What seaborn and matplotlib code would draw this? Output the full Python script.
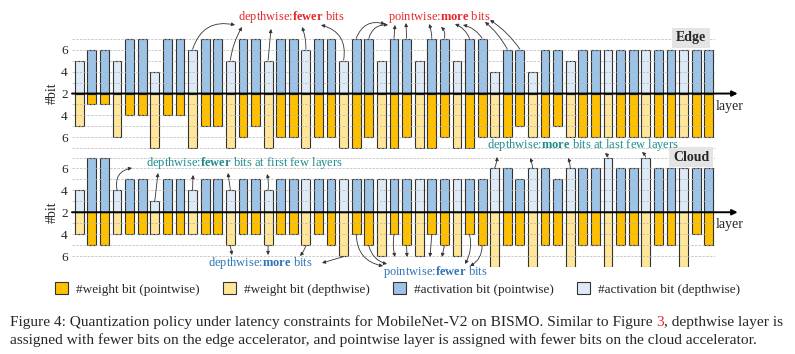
import numpy as np
import pandas as pd
import seaborn as sns
import matplotlib.pyplot as plt
from matplotlib.patches import Patch

sns.set_style('white')
plt.rcParams['font.family'] = ['Liberation Serif', 'DejaVu Serif']
plt.rcParams['mathtext.fontset'] = 'custom'
plt.rcParams['mathtext.rm'] = 'Liberation Serif'
plt.rcParams['mathtext.bf'] = 'Liberation Serif:bold'

# bits per layer (51 layers: depthwise, pointwise, pointwise, ...)
layers = list(range(51))
edge_act = [5,6,6, 5,7,7, 4,7,7, 6,7,7, 5,7,7, 5,7,7, 6,7,7, 5,7,7, 5,7,7, 5,7,7,
            5,7,7, 4,6,6, 4,6,6, 5,6,6, 6,6,6, 6,6,6, 6,6,6]
edge_w = [5,3,3, 6,4,4, 7,4,4, 7,5,5, 7,6,5, 7,6,6, 7,6,6, 7,7,6, 7,7,6, 7,7,6,
          7,7,6, 6,6,5, 6,6,5, 6,6,6, 6,6,6, 6,6,6, 6,6,6]
cloud_act = [4,7,7, 4,5,5, 3,5,5, 4,5,5, 4,5,5, 4,5,5, 5,5,5, 5,5,5, 5,5,5, 5,5,5,
             5,5,5, 6,6,5, 6,6,5, 6,6,6, 7,6,6, 7,6,6, 6,6,6]
cloud_w = [4,5,5, 4,4,4, 4,4,4, 4,4,4, 5,4,4, 5,4,4, 5,4,5, 6,4,5, 6,4,5, 6,4,5,
           6,4,5, 7,5,5, 7,5,5, 7,5,5, 7,5,5, 7,5,5, 7,4,5]
kinds = ['depthwise' if i % 3 == 0 else 'pointwise' for i in layers]

legend_labels = ['#weight bit (pointwise)', '#weight bit (depthwise)',
                 '#activation bit (pointwise)', '#activation bit (depthwise)']
colors = ['#ffc000', '#ffe699', '#9dc3e6', '#deebf7']
palette = dict(zip(legend_labels, colors))

RED, TEAL, BLUE = '#e8262a', '#1f8c8c', '#2e74b5'


def fx(px):
    return px / 795


def fy(py):
    return 1 - py / 354


def make_df(act, w):
    rows = []
    for i in layers:
        rows.append((i, act[i] - 2, '#activation bit (%s)' % kinds[i]))
        rows.append((i, -(w[i] - 2), '#weight bit (%s)' % kinds[i]))
    return pd.DataFrame(rows, columns=['layer', 'h', 'part'])


fig = plt.figure(figsize=(7.95, 3.54), dpi=100)
ax_e = fig.add_axes([fx(72), fy(148.5), fx(715) - fx(72), (148.5 - 37.5) / 354])
ax_c = fig.add_axes([fx(72), fy(267.2), fx(715) - fx(72), (148.5 - 37.5) / 354])

for ax, act, w, name, ny in [(ax_e, edge_act, edge_w, 'Edge', 38),
                             (ax_c, cloud_act, cloud_w, 'Cloud', 157)]:
    df = make_df(act, w)
    sns.barplot(data=df, x='layer', y='h', hue='part', hue_order=legend_labels,
                palette=palette, saturation=1, dodge=False, width=0.7,
                errorbar=None, edgecolor='#333333', linewidth=0.8, legend=False,
                ax=ax)
    ax.set_xlim(-0.58, 50.5)
    ax.set_ylim(-5.02, 5.12)
    for lv in range(-5, 6):
        if lv != 0:
            ax.axhline(lv, color='#b5b5b5', lw=0.6, ls=(0, (3, 1.5)), alpha=0.8)
    ax.annotate('', xy=(52.3, 0), xytext=(-0.58, 0),
                arrowprops=dict(arrowstyle='-|>', color='black', lw=1.4,
                                mutation_scale=8, shrinkA=0, shrinkB=0),
                annotation_clip=False)
    ax.text(50.55, -1.15, 'layer', fontsize=10, ha='left', va='center')
    ax.set_xticks([])
    ax.set_yticks([4, 2, 0, -2, -4])
    ax.set_yticklabels(['6', '4', '2', '4', '6'], fontsize=9.5)
    ax.tick_params(axis='y', length=0, pad=3)
    ax.set_xlabel('')
    ax.set_ylabel('#bit', fontsize=10, labelpad=2)
    sns.despine(ax=ax, left=True, bottom=True)
    fig.text(fx(691), fy(ny), name, fontsize=10, fontweight='bold',
             ha='center', va='center', zorder=5,
             bbox=dict(boxstyle='square,pad=0.25', fc='#e4e4e4', ec='none'))

# annotation groups: text, colour, centre (px), axes, series, layers, arrow heads (px), rads
groups = [
    ('depthwise:$\\mathbf{fewer}$ bits', RED, (291, 17), ax_e, edge_act, 1,
     [9, 12, 15, 18, 21],
     [(235, 25), (242, 27), (271, 29), (302, 27), (321, 25)],
     [-0.45, -0.1, 0, 0.1, 0.45]),
    ('pointwise:$\\mathbf{more}$ bits', RED, (439, 17), ax_e, edge_act, 1,
     [22, 23, 25, 26, 28, 29, 31, 32, 34, 35],
     [(385, 24), (388, 25), (395, 25), (406, 23), (429, 24), (441, 27),
      (455, 24), (463, 25), (485, 22), (490, 20)],
     [-0.45, -0.4, 0, 0, 0.1, 0.3, 0.2, 0.2, 0.1, 0.1]),
    ('depthwise:$\\mathbf{fewer}$ bits at first few layers', TEAL, (244, 163), ax_c,
     cloud_act, 1, [3, 6, 9, 12, 15],
     [(132, 168), (158, 173), (193, 175), (228, 173), (267, 174)],
     [-0.5, 0, 0, 0, 0.1]),
    ('depthwise:$\\mathbf{more}$ bits at last few layers', TEAL, (583, 145), ax_c,
     cloud_act, 1, [33, 36, 39, 42, 45],
     [(497, 157), (530, 158), (568, 158), (605, 153), (642, 152)],
     [0.1, 0.1, 0.1, 0.1, 0.1]),
    ('depthwise:$\\mathbf{more}$ bits', BLUE, (260, 263), ax_c, cloud_w, -1,
     [12, 15, 18, 21],
     [(232, 255), (268, 255), (300, 256), (322, 263)],
     [0, 0, -0.1, 0]),
    ('pointwise:$\\mathbf{fewer}$ bits', BLUE, (435, 272), ax_c, cloud_w, -1,
     [22, 23, 25, 26, 28, 29, 31, 32],
     [(383, 266), (387, 264), (395, 257), (407, 257), (430, 257), (442, 257),
      (465, 264), (470, 266)],
     [0.4, 0.3, 0.1, 0, 0, 0, -0.2, -0.3]),
]

for text, col, (cx, cy), ax, series, sign, idx, heads, rads in groups:
    fig.text(fx(cx), fy(cy), text, color=col, fontsize=9, ha='center',
             va='center', zorder=6)
    for i, (hx, hy), rad in zip(idx, heads, rads):
        y0 = sign * (series[i] - 2) + sign * 0.05
        ax.annotate('', xy=(fx(hx), fy(hy)), xycoords='figure fraction',
                    xytext=(i, y0), textcoords='data',
                    arrowprops=dict(arrowstyle='-|>', color='#333333', lw=0.6,
                                    mutation_scale=5, shrinkA=0, shrinkB=0,
                                    connectionstyle='arc3,rad=%s' % rad),
                    annotation_clip=False)

handles = [Patch(facecolor=c, edgecolor='#333333', linewidth=0.8) for c in colors]
fig.legend(handles, legend_labels, loc='center', bbox_to_anchor=(0.5, fy(289)),
           ncol=4, frameon=False, fontsize=9.5, handlelength=1.0,
           handleheight=1.0, handletextpad=0.6, columnspacing=1.75)

cap_fs = 11.1
t1 = fig.text(fx(10), fy(322), 'Figure 4: Quantization policy under latency constraints '
              'for MobileNet-V2 on BISMO. Similar to Figure ', fontsize=cap_fs,
              va='center', ha='left')
t2 = ax_c.annotate('3', xy=(1, 0), xycoords=t1, va='bottom', ha='left',
                   color=RED, fontsize=cap_fs, annotation_clip=False)
ax_c.annotate(', depthwise layer is', xy=(1, 0), xycoords=t2, va='bottom',
              ha='left', fontsize=cap_fs, annotation_clip=False)
fig.text(fx(10), fy(340), 'assigned with fewer bits on the edge accelerator, and '
         'pointwise layer is assigned with fewer bits on the cloud accelerator.',
         fontsize=cap_fs, va='center', ha='left')

fig.savefig('out.png', dpi=100)
